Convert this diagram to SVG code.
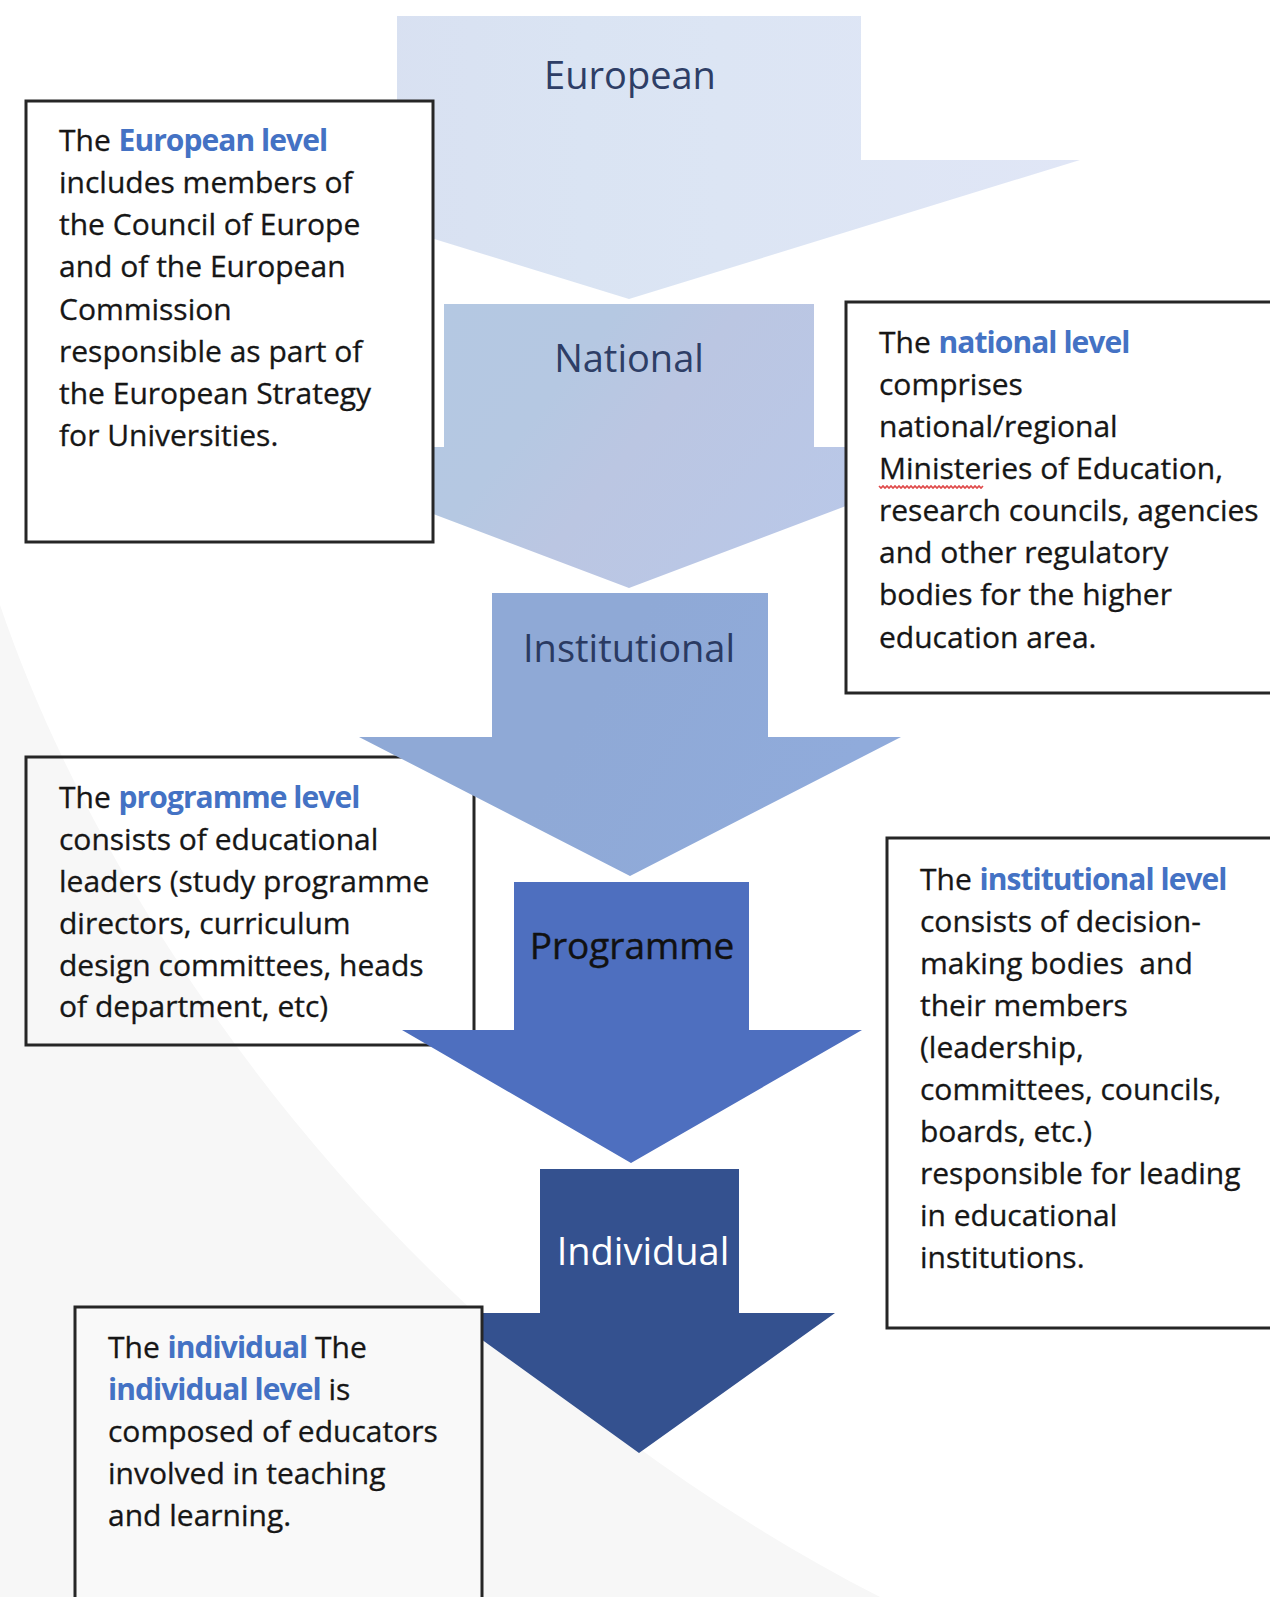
<svg xmlns="http://www.w3.org/2000/svg" width="1270" height="1597" viewBox="0 0 1270 1597">
<defs>
<linearGradient id="gEu" x1="0" y1="0" x2="1" y2="0">
<stop offset="0" stop-color="#D7DEF0"/><stop offset="0.2" stop-color="#D8E0F1"/><stop offset="0.45" stop-color="#DAE4F3"/><stop offset="0.6" stop-color="#DCE5F4"/><stop offset="1" stop-color="#E0E6F6"/>
</linearGradient>
<linearGradient id="gNa" x1="0" y1="0" x2="1" y2="0.3">
<stop offset="0" stop-color="#B3C8E2"/><stop offset="0.45" stop-color="#B5C8E2"/><stop offset="0.6" stop-color="#BBC6E2"/><stop offset="1" stop-color="#B9C8E9"/>
</linearGradient>
<linearGradient id="gIn" x1="0" y1="0" x2="1" y2="0.3">
<stop offset="0" stop-color="#8FA9D6"/><stop offset="0.5" stop-color="#8FA9D6"/><stop offset="1" stop-color="#90ABDB"/>
</linearGradient>
</defs>
<style>
.box{stroke:#262626;stroke-width:3}
.t{font-family:"Open Sans","Noto Sans","Liberation Sans",sans-serif;font-size:30px;fill:#161616;stroke:#161616;stroke-width:0.3px}
.b{font-weight:bold;fill:#4472C4;stroke:none;letter-spacing:-0.95px}
.lbl{font-family:"Open Sans","Noto Sans","Liberation Sans",sans-serif;font-size:38px;text-anchor:middle}
</style>
<rect x="0" y="0" width="1270" height="1597" fill="#FFFFFF"/>
<path d="M0,605 C100,900 380,1340 880,1597 L0,1597 Z" fill="#F7F7F7"/>

<g id="box-programme">
<rect class="box" x="26" y="757" width="448" height="288" fill="none"/>
<text class="t" x="59" y="808"><tspan>The </tspan><tspan class="b">programme level</tspan></text>
<text class="t" x="59" y="850">consists of educational</text>
<text class="t" x="59" y="892">leaders (study programme</text>
<text class="t" x="59" y="934">directors, curriculum</text>
<text class="t" x="59" y="976">design committees, heads</text>
<text class="t" x="59" y="1017">of department, etc)</text>
</g>

<g id="arrow-european">
<path d="M397,16 H861 V160 H1080 L629,299 L178,160 H397 Z" fill="url(#gEu)"/>
<text class="lbl" x="630" y="89" fill="#2E3E66">European</text>
</g>
<g id="arrow-national">
<path d="M444,304 H814 V447 H1002 L629,588 L256,447 H444 Z" fill="url(#gNa)"/>
<text class="lbl" x="629" y="372" fill="#2E3E66">National</text>
</g>
<g id="arrow-institutional">
<path d="M492,593 H768 V737 H901 L630,876 L359,737 H492 Z" fill="url(#gIn)"/>
<text class="lbl" x="629" y="662" fill="#2A3A62">Institutional</text>
</g>
<g id="arrow-programme">
<path d="M514,882 H749 V1030 H862 L631,1163 L402,1030 H514 Z" fill="#4E6FBF"/>
<text class="lbl" x="632" y="959" fill="#111111" stroke="#111111" stroke-width="0.4" style="font-size:37px">Programme</text>
</g>
<g id="arrow-individual">
<path d="M540,1169 H739 V1313 H835 L639,1453 L445,1313 H540 Z" fill="#34518F"/>
<text class="lbl" x="643" y="1265" fill="#FFFFFF">Individual</text>
</g>

<g id="connectors"/>

<g id="box-european">
<rect class="box" x="26" y="101" width="407" height="441" fill="#FFFFFF"/>
<text class="t" x="59" y="151"><tspan>The </tspan><tspan class="b">European level</tspan></text>
<text class="t" x="59" y="193">includes members of</text>
<text class="t" x="59" y="235">the Council of Europe</text>
<text class="t" x="59" y="277">and of the European</text>
<text class="t" x="59" y="320">Commission</text>
<text class="t" x="59" y="362">responsible as part of</text>
<text class="t" x="59" y="404">the European Strategy</text>
<text class="t" x="59" y="446">for Universities.</text>
</g>

<g id="box-national">
<rect class="box" x="846" y="302" width="440" height="391" fill="#FFFFFF"/>
<text class="t" x="879" y="352.5"><tspan>The </tspan><tspan class="b">national level</tspan></text>
<text class="t" x="879" y="394.5">comprises</text>
<text class="t" x="879" y="436.5">national/regional</text>
<text class="t" x="879" y="478.5">Ministeries of Education,</text>
<path d="M879,486 l2,2 l2,-2 l2,2 l2,-2 l2,2 l2,-2 l2,2 l2,-2 l2,2 l2,-2 l2,2 l2,-2 l2,2 l2,-2 l2,2 l2,-2 l2,2 l2,-2 l2,2 l2,-2 l2,2 l2,-2 l2,2 l2,-2 l2,2 l2,-2 l2,2 l2,-2 l2,2 l2,-2 l2,2 l2,-2 l2,2 l2,-2 l2,2 l2,-2 l2,2 l2,-2 l2,2 l2,-2 l2,2 l2,-2 l2,2 l2,-2 l2,2 l2,-2 l2,2 l2,-2 l2,2 l2,-2 l2,2 l2,-2" fill="none" stroke="#E04A4A" stroke-width="1.6"/>
<text class="t" x="879" y="520.5">research councils, agencies</text>
<text class="t" x="879" y="562.5">and other regulatory</text>
<text class="t" x="879" y="605">bodies for the higher</text>
<text class="t" x="879" y="647.5">education area.</text>
</g>

<g id="box-institutional">
<rect class="box" x="887" y="838" width="400" height="490" fill="#FFFFFF"/>
<text class="t" x="920" y="889.5"><tspan>The </tspan><tspan class="b">institutional level</tspan></text>
<text class="t" x="920" y="931.5">consists of decision-</text>
<text class="t" x="920" y="973.5" xml:space="preserve">making bodies  and</text>
<text class="t" x="920" y="1015.5">their members</text>
<text class="t" x="920" y="1057.5">(leadership,</text>
<text class="t" x="920" y="1099.5">committees, councils,</text>
<text class="t" x="920" y="1141.5">boards, etc.)</text>
<text class="t" x="920" y="1183.5">responsible for leading</text>
<text class="t" x="920" y="1225.5">in educational</text>
<text class="t" x="920" y="1267.5">institutions.</text>
</g>

<g id="box-individual">
<rect class="box" x="75" y="1307" width="407" height="320" fill="#F9F9F9"/>
<text class="t" x="108" y="1357.5"><tspan>The </tspan><tspan class="b">individual</tspan><tspan> The</tspan></text>
<text class="t" x="108" y="1399.5"><tspan class="b">individual level</tspan><tspan> is</tspan></text>
<text class="t" x="108" y="1441.5">composed of educators</text>
<text class="t" x="108" y="1483.5">involved in teaching</text>
<text class="t" x="108" y="1525.5">and learning.</text>
</g>
</svg>
